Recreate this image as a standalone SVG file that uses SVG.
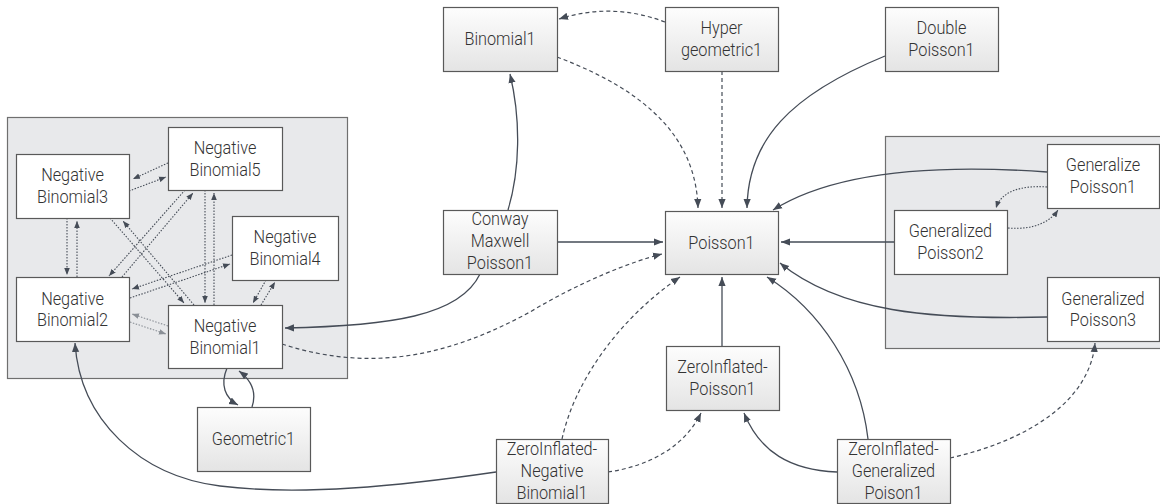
<svg xmlns="http://www.w3.org/2000/svg" width="1160" height="504" viewBox="0 0 1160 504">
  <defs>
    <linearGradient id="boxFill" x1="0" y1="0" x2="0" y2="1">
      <stop offset="0" stop-color="#fdfdfd"/>
      <stop offset="1" stop-color="#e4e4e4"/>
    </linearGradient>
    <marker id="arrow" viewBox="0 0 10 10" refX="10" refY="5" markerWidth="9" markerHeight="9" markerUnits="userSpaceOnUse" orient="auto">
      <path d="M0,1 L10,5 L0,9 z" fill="#454c57"/>
    </marker>
    <marker id="arrowSmall" viewBox="0 0 10 10" refX="10" refY="5" markerWidth="7" markerHeight="7" markerUnits="userSpaceOnUse" orient="auto">
      <path d="M0,1 L10,5 L0,9 z" fill="#454c57"/>
    </marker>
    <marker id="arrowGray" viewBox="0 0 10 10" refX="10" refY="5" markerWidth="7" markerHeight="7" markerUnits="userSpaceOnUse" orient="auto">
      <path d="M0,1 L10,5 L0,9 z" fill="#8a8f96"/>
    </marker>
  </defs>
  <style>
    .cluster { fill: #e8e9eb; stroke: #6f6f6f; stroke-width: 1.2; }
    .node { fill: url(#boxFill); stroke: #595959; stroke-width: 1.2; }
    .inner { fill: #ffffff; stroke: #595959; stroke-width: 1.2; }
    .label { font-family: Roboto, "Liberation Sans", sans-serif; font-weight: 300; font-size: 18.5px; fill: #333333; text-anchor: middle; }
    .solid { fill: none; stroke: #454c57; stroke-width: 1.3; marker-end: url(#arrow); }
    .dashed { fill: none; stroke: #454c57; stroke-width: 1.2; stroke-dasharray: 4 3; marker-end: url(#arrow); }
    .dotted { fill: none; stroke: #454c57; stroke-width: 1.1; stroke-dasharray: 1.5 1.5; marker-end: url(#arrowSmall); }
    .dottedGray { fill: none; stroke: #8a8f96; stroke-width: 1.1; stroke-dasharray: 1.5 1.5; marker-end: url(#arrowGray); }
  </style>

  <!-- cluster backgrounds -->
  <g id="cluster-negative-binomial">
    <rect class="cluster" x="7.5" y="117.5" width="340" height="261"/>
  </g>
  <g id="cluster-generalized-poisson">
    <rect class="cluster" x="885.5" y="136.5" width="290" height="212"/>
  </g>

  <!-- connectors -->
  <g id="connectors">
    <!-- top row -->
    <path class="dashed" d="M665,22 Q612,2 559,19"/>
    <path class="dashed" d="M557,57 C650,92 696,140 698,208"/>
    <path class="dashed" d="M722,71 L722,208"/>
    <path class="solid" d="M885,56 C790,95 748,140 747,208"/>

    <!-- generalized poisson cluster into Poisson1 -->
    <path class="solid" d="M1047,172 C950,165 840,168 773,210"/>
    <path class="solid" d="M894,242 L781,242"/>
    <path class="solid" d="M1047,317 C930,320 840,312 780,263"/>
    <path class="dotted" d="M1047,187 C1020,185 1001,192 996,208"/>
    <path class="dotted" d="M1008,228 C1034,230 1050,222 1058,210"/>

    <!-- zero inflated models -->
    <path class="solid" d="M868,439 C860,370 820,310 767,277"/>
    <path class="solid" d="M837,472 C790,470 760,452 744,413"/>
    <path class="dashed" d="M950,458 C1030,440 1090,400 1095,343"/>
    <path class="solid" d="M722,346 L722,277"/>
    <path class="dashed" d="M608,472 C650,466 685,446 701,413"/>
    <path class="dashed" d="M562,439 C575,380 620,318 680,277"/>
    <path class="solid" d="M496,472 C400,486 300,496 220,486 C140,476 80,420 75,343"/>

    <!-- Conway Maxwell Poisson1 -->
    <path class="solid" d="M508,210 C520,170 521,120 510,74"/>
    <path class="solid" d="M557,242 L663,242"/>
    <path class="solid" d="M480,274 C460,316 390,326 285,328"/>

    <!-- Negative Binomial1 -->
    <path class="dashed" d="M282,344 C380,376 460,350 530,312 C580,282 630,262 662,254"/>
    <path class="solid" d="M227,368 C220,385 225,398 238,405"/>
    <path class="solid" d="M252,407 C257,392 251,380 239,371"/>

    <!-- links inside the negative binomial cluster -->
    <path class="dotted" d="M168,163 L133,179"/>
    <path class="dotted" d="M129,191 L166,177"/>
    <path class="dotted" d="M67,218 L67,275"/>
    <path class="dotted" d="M77,277 L77,221"/>
    <path class="dotted" d="M110,218 L184,303"/>
    <path class="dotted" d="M194,305 L123,221"/>
    <path class="dotted" d="M185,190 L109,276"/>
    <path class="dotted" d="M122,277 L193,193"/>
    <path class="dotted" d="M205,190 L205,303"/>
    <path class="dotted" d="M214,305 L214,193"/>
    <path class="dotted" d="M232,255 L132,289"/>
    <path class="dotted" d="M130,298 L230,264"/>
    <path class="dotted" d="M261,305 L275,282"/>
    <path class="dotted" d="M266,280 L253,303"/>
    <path class="dottedGray" d="M168,326 L132,314"/>
    <path class="dottedGray" d="M130,322 L166,334"/>
  </g>

  <!-- nodes (labels drawn in a 0.88 horizontally condensed space: x = cx / 0.88) -->
  <g id="Binomial1">
    <rect class="node" x="443.5" y="7.5" width="114" height="64"/>
    <text class="label" transform="scale(0.88,1)" x="568.18" y="45.5">Binomial1</text>
  </g>
  <g id="Hypergeometric1">
    <rect class="node" x="665.5" y="7.5" width="113" height="64"/>
    <text class="label" transform="scale(0.88,1)" x="819.89" y="34">Hyper</text>
    <text class="label" transform="scale(0.88,1)" x="819.89" y="56">geometric1</text>
  </g>
  <g id="DoublePoisson1">
    <rect class="node" x="885.5" y="7.5" width="113" height="64"/>
    <text class="label" transform="scale(0.88,1)" x="1069.89" y="34">Double</text>
    <text class="label" transform="scale(0.88,1)" x="1069.89" y="56">Poisson1</text>
  </g>
  <g id="Poisson1">
    <rect class="node" x="665.5" y="211.5" width="113" height="63"/>
    <text class="label" transform="scale(0.88,1)" x="819.89" y="249">Poisson1</text>
  </g>
  <g id="ConwayMaxwellPoisson1">
    <rect class="node" x="443.5" y="210.5" width="114" height="64"/>
    <text class="label" transform="scale(0.88,1)" x="568.18" y="225">Conway</text>
    <text class="label" transform="scale(0.88,1)" x="568.18" y="247">Maxwell</text>
    <text class="label" transform="scale(0.88,1)" x="568.18" y="269">Poisson1</text>
  </g>
  <g id="ZeroInflatedPoisson1">
    <rect class="node" x="666.5" y="346.5" width="113" height="64"/>
    <text class="label" transform="scale(0.88,1)" x="821.02" y="373">ZeroInflated-</text>
    <text class="label" transform="scale(0.88,1)" x="821.02" y="395">Poisson1</text>
  </g>
  <g id="ZeroInflatedNegativeBinomial1">
    <rect class="node" x="496.5" y="439.5" width="112" height="64"/>
    <text class="label" transform="scale(0.88,1)" x="627.27" y="455">ZeroInflated-</text>
    <text class="label" transform="scale(0.88,1)" x="627.27" y="477">Negative</text>
    <text class="label" transform="scale(0.88,1)" x="627.27" y="499">Binomial1</text>
  </g>
  <g id="ZeroInflatedGeneralizedPoison1">
    <rect class="node" x="837.5" y="439.5" width="113" height="64"/>
    <text class="label" transform="scale(0.88,1)" x="1015.34" y="455">ZeroInflated-</text>
    <text class="label" transform="scale(0.88,1)" x="1015.34" y="477">Generalized</text>
    <text class="label" transform="scale(0.88,1)" x="1015.34" y="499">Poison1</text>
  </g>
  <g id="Geometric1">
    <rect class="node" x="197.5" y="407.5" width="113" height="64"/>
    <text class="label" transform="scale(0.88,1)" x="288.07" y="445.5">Geometric1</text>
  </g>

  <g id="NegativeBinomial3">
    <rect class="inner" x="16.5" y="154.5" width="113" height="64"/>
    <text class="label" transform="scale(0.88,1)" x="82.39" y="181.5">Negative</text>
    <text class="label" transform="scale(0.88,1)" x="82.39" y="203.5">Binomial3</text>
  </g>
  <g id="NegativeBinomial5">
    <rect class="inner" x="168.5" y="127.5" width="114" height="63"/>
    <text class="label" transform="scale(0.88,1)" x="255.68" y="154">Negative</text>
    <text class="label" transform="scale(0.88,1)" x="255.68" y="176">Binomial5</text>
  </g>
  <g id="NegativeBinomial4">
    <rect class="inner" x="232.5" y="216.5" width="106" height="64"/>
    <text class="label" transform="scale(0.88,1)" x="323.86" y="243.5">Negative</text>
    <text class="label" transform="scale(0.88,1)" x="323.86" y="265.5">Binomial4</text>
  </g>
  <g id="NegativeBinomial2">
    <rect class="inner" x="16.5" y="277.5" width="113" height="64"/>
    <text class="label" transform="scale(0.88,1)" x="82.39" y="304.5">Negative</text>
    <text class="label" transform="scale(0.88,1)" x="82.39" y="326.5">Binomial2</text>
  </g>
  <g id="NegativeBinomial1">
    <rect class="inner" x="168.5" y="305.5" width="114" height="63"/>
    <text class="label" transform="scale(0.88,1)" x="255.68" y="332">Negative</text>
    <text class="label" transform="scale(0.88,1)" x="255.68" y="354">Binomial1</text>
  </g>

  <g id="GeneralizePoisson1">
    <rect class="inner" x="1047.5" y="144.5" width="112" height="64"/>
    <text class="label" transform="scale(0.88,1)" x="1253.41" y="171.5">Generalize</text>
    <text class="label" transform="scale(0.88,1)" x="1253.41" y="193.5">Poisson1</text>
  </g>
  <g id="GeneralizedPoisson2">
    <rect class="inner" x="894.5" y="210.5" width="113" height="64"/>
    <text class="label" transform="scale(0.88,1)" x="1080.11" y="237.5">Generalized</text>
    <text class="label" transform="scale(0.88,1)" x="1080.11" y="259.5">Poisson2</text>
  </g>
  <g id="GeneralizedPoisson3">
    <rect class="inner" x="1047.5" y="277.5" width="112" height="64"/>
    <text class="label" transform="scale(0.88,1)" x="1253.41" y="304.5">Generalized</text>
    <text class="label" transform="scale(0.88,1)" x="1253.41" y="326.5">Poisson3</text>
  </g>
</svg>
